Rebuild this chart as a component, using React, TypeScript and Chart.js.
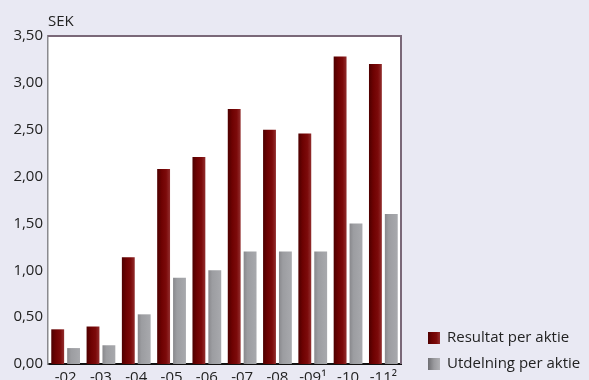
import React, { useEffect, useRef } from "react";
import { Chart, registerables } from "chart.js";

Chart.register(...registerables);

const categories = ["-02", "-03", "-04", "-05", "-06", "-07", "-08", "-09\u00B9", "-10", "-11\u00B2"];
const resultatPerAktie = [0.37, 0.4, 1.14, 2.08, 2.21, 2.72, 2.5, 2.46, 3.28, 3.2];
const utdelningPerAktie = [0.17, 0.2, 0.53, 0.92, 1.0, 1.2, 1.2, 1.2, 1.5, 1.6];
const seriesNames = ["Resultat per aktie", "Utdelning per aktie"];
const yTicks = [0, 0.5, 1, 1.5, 2, 2.5, 3, 3.5];
const unitLabel = "SEK";

const FONT = "'Open Sans', sans-serif";
const CAT_PCT = 0.9;
const BAR_PCT = 0.81;

const redStops: [number, string][] = [
  [0, "#4e0000"],
  [0.35, "#6e0202"],
  [0.7, "#7c0a0a"],
  [1, "#922e2e"],
];
const grayStops: [number, string][] = [
  [0, "#88888c"],
  [0.3, "#9c9da1"],
  [1, "#a8a9ad"],
];

function makeGrad(ctx: CanvasRenderingContext2D, x0: number, x1: number, stops: [number, string][]) {
  const g = ctx.createLinearGradient(x0, 0, x1, 0);
  stops.forEach(([o, c]) => g.addColorStop(o, c));
  return g;
}

function barFill(dsIndex: number, stops: [number, string][], fallback: string) {
  return (context: any) => {
    const chart = context.chart;
    const area = chart.chartArea;
    const xs = chart.scales?.x;
    if (!area || !xs || context.dataIndex === undefined) return fallback;
    const n = categories.length;
    const cw = (area.right - area.left) / n;
    const c = xs.getPixelForValue(context.dataIndex);
    const group = cw * CAT_PCT;
    const slot = group / 2;
    const left = c - group / 2 + dsIndex * slot + (slot * (1 - BAR_PCT)) / 2;
    const w = slot * BAR_PCT;
    return makeGrad(chart.ctx, left, left + w, stops);
  };
}

const decorPlugin = {
  id: "decor",
  beforeDraw(chart: any) {
    const { ctx, width, height, chartArea } = chart;
    ctx.save();
    ctx.fillStyle = "#e9e9f3";
    ctx.fillRect(0, 0, width, height);
    ctx.fillStyle = "#ffffff";
    ctx.fillRect(chartArea.left, chartArea.top, chartArea.right - chartArea.left, chartArea.bottom - chartArea.top);
    ctx.restore();
  },
  afterDraw(chart: any) {
    const { ctx, chartArea } = chart;
    ctx.save();
    ctx.strokeStyle = "#7a6878";
    ctx.lineWidth = 2;
    ctx.beginPath();
    ctx.moveTo(chartArea.left, chartArea.top);
    ctx.lineTo(chartArea.right, chartArea.top);
    ctx.lineTo(chartArea.right, chartArea.bottom);
    ctx.stroke();
    ctx.fillStyle = "#222";
    ctx.font = `15px ${FONT}`;
    ctx.textAlign = "left";
    ctx.textBaseline = "alphabetic";
    ctx.fillText(unitLabel, chartArea.left, 26);
    const items = [
      { name: seriesNames[0], stops: redStops },
      { name: seriesNames[1], stops: [[0, "#6e6e72"], [0.5, "#9a9a9e"], [1, "#b0b0b4"]] as [number, string][] },
    ];
    const bx = chartArea.right + 27;
    items.forEach((it, i) => {
      const cy = 338 + i * 26;
      ctx.fillStyle = makeGrad(ctx, bx, bx + 12, it.stops);
      ctx.fillRect(bx, cy - 6, 12, 12);
      ctx.fillStyle = "#222";
      ctx.textBaseline = "middle";
      ctx.fillText(it.name, bx + 19, cy);
    });
    ctx.restore();
  },
};

export default function App() {
  const ref = useRef<HTMLCanvasElement | null>(null);
  useEffect(() => {
    if (!ref.current) return;
    const chart = new Chart(ref.current, {
      type: "bar",
      data: {
        labels: categories,
        datasets: [
          {
            label: seriesNames[0],
            data: resultatPerAktie,
            backgroundColor: barFill(0, redStops, "#700606"),
            categoryPercentage: CAT_PCT,
            barPercentage: BAR_PCT,
          },
          {
            label: seriesNames[1],
            data: utdelningPerAktie,
            backgroundColor: barFill(1, grayStops, "#a0a1a5"),
            categoryPercentage: CAT_PCT,
            barPercentage: BAR_PCT,
          },
        ],
      },
      options: {
        responsive: false,
        animation: false,
        layout: { padding: { top: 36, right: 188, bottom: 0, left: 0 } },
        plugins: {
          legend: { display: false },
          tooltip: { enabled: false },
        },
        scales: {
          x: {
            grid: { display: false, drawTicks: false },
            border: { display: true, color: "#111", width: 2 },
            ticks: { color: "#222", font: { family: FONT, size: 15 }, padding: 5, maxRotation: 0, autoSkip: false },
            afterFit: (s: any) => {
              s.height = 16;
            },
          },
          y: {
            min: 0,
            max: 3.5,
            afterBuildTicks: (s: any) => {
              s.ticks = yTicks.map((v) => ({ value: v }));
            },
            grid: { display: false, drawTicks: false },
            border: { display: true, color: "#8a8a8e", width: 1.5 },
            ticks: {
              color: "#222",
              font: { family: FONT, size: 15 },
              padding: 5,
              callback: (v: any) => Number(v).toFixed(2).replace(".", ","),
            },
            afterFit: (s: any) => {
              s.width = 48;
            },
          },
        },
      },
      plugins: [decorPlugin],
    });
    return () => chart.destroy();
  }, []);
  return (
    <div style={{ position: "fixed", left: 0, top: 0, width: 589, height: 380, background: "#e9e9f3" }}>
      <canvas ref={ref} width={589} height={380} style={{ display: "block" }} />
    </div>
  );
}
